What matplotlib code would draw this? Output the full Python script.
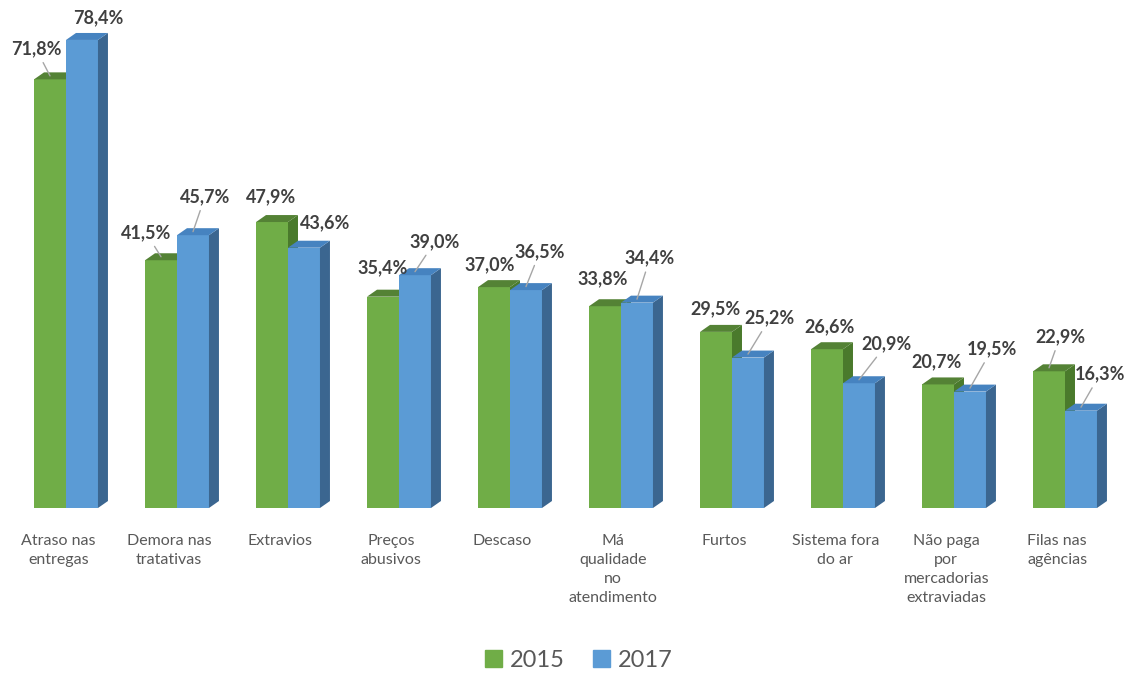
import numpy as np
import matplotlib.pyplot as plt
from matplotlib.patches import Polygon, Patch

plt.rcParams['font.family'] = ['Lato', 'DejaVu Sans']

categorias = ['Atraso nas\nentregas', 'Demora nas\ntratativas', 'Extravios',
              'Preços\nabusivos', 'Descaso', 'Má\nqualidade\nno\natendimento',
              'Furtos', 'Sistema fora\ndo ar', 'Não paga\npor\nmercadorias\nextraviadas',
              'Filas nas\nagências']
v2015 = [71.8, 41.5, 47.9, 35.4, 37.0, 33.8, 29.5, 26.6, 20.7, 22.9]
v2017 = [78.4, 45.7, 43.6, 39.0, 36.5, 34.4, 25.2, 20.9, 19.5, 16.3]

# label offsets in pixels from the top-centre of each bar, and whether a leader line is drawn
off2015 = [(-14, -27, True), (-15, -24, True), (-1, -22, False), (0, -25, False), (-4, -19, False),
           (-2, -24, False), (-1, -20, False), (3, -19, False), (-1, -19, False), (11, -31, True)]
off2017 = [(16, -19, False), (12, -35, True), (21, -21, False), (20, -30, True), (14, -35, True),
           (13, -41, True), (22, -36, True), (28, -36, True), (22, -39, True), (19, -33, True)]

cores = {
    '2015': ('#70AD47', '#548235', '#4A7A2C'),
    '2017': ('#5B9BD5', '#4683C0', '#3B6690'),
}

fig = plt.figure(figsize=(11.41, 6.74), dpi=100)
ax = fig.add_axes([10.5 / 1141, 166 / 674, 1110 / 1141, 508 / 674])
ax.set_xlim(-0.5, 9.5)
ax.set_ylim(0, 508 / 5.97)

w = 0.288
dx = 0.09
dy = 1.17
x = np.arange(len(categorias))


def barra3d(x0, v, cor):
    frente, topo, lado = cor
    ax.bar(x0, v, width=w, align='edge', color=frente, zorder=2)
    x1 = x0 + w
    ax.add_patch(Polygon([(x1, 0), (x1 + dx, dy), (x1 + dx, v + dy), (x1, v)],
                         closed=True, facecolor=lado, edgecolor='none', zorder=2))
    ax.add_patch(Polygon([(x0, v), (x1, v), (x1 + dx, v + dy), (x0 + dx, v + dy)],
                         closed=True, facecolor=topo, edgecolor='none', zorder=2))


def rotulo(xc, v, off):
    ox, oy, linha = off
    props = dict(arrowstyle='-', color='#A6A6A6', lw=1, shrinkA=2, shrinkB=0) if linha else None
    ax.annotate(f'{v:.1f}%'.replace('.', ','), xy=(xc, v + dy * 0.5),
                xytext=(ox, -oy), textcoords='offset pixels',
                ha='center', va='center', fontsize=13, fontweight='bold',
                color='#404040', arrowprops=props, zorder=5)


for i in range(len(categorias)):
    barra3d(x[i] - w, v2015[i], cores['2015'])
    barra3d(x[i], v2017[i], cores['2017'])
    rotulo(x[i] - w / 2, v2015[i], off2015[i])
    rotulo(x[i] + w / 2, v2017[i], off2017[i])

ax.set_xticks(x - 0.07)
ax.set_xticklabels(categorias, fontsize=11.5, color='#595959', linespacing=1.45, va='top')
ax.tick_params(axis='x', length=0, pad=19)
ax.set_yticks([])
for s in ax.spines.values():
    s.set_visible(False)

handles = [Patch(color=cores['2015'][0], label='2015'), Patch(color=cores['2017'][0], label='2017')]
fig.legend(handles=handles, loc='center', bbox_to_anchor=(0.507, 0.02), ncol=2, frameon=False,
           fontsize=17, labelcolor='#595959', handlelength=0.75, handleheight=0.75,
           handletextpad=0.3, columnspacing=1.2)

fig.savefig('out.png', dpi=100)
